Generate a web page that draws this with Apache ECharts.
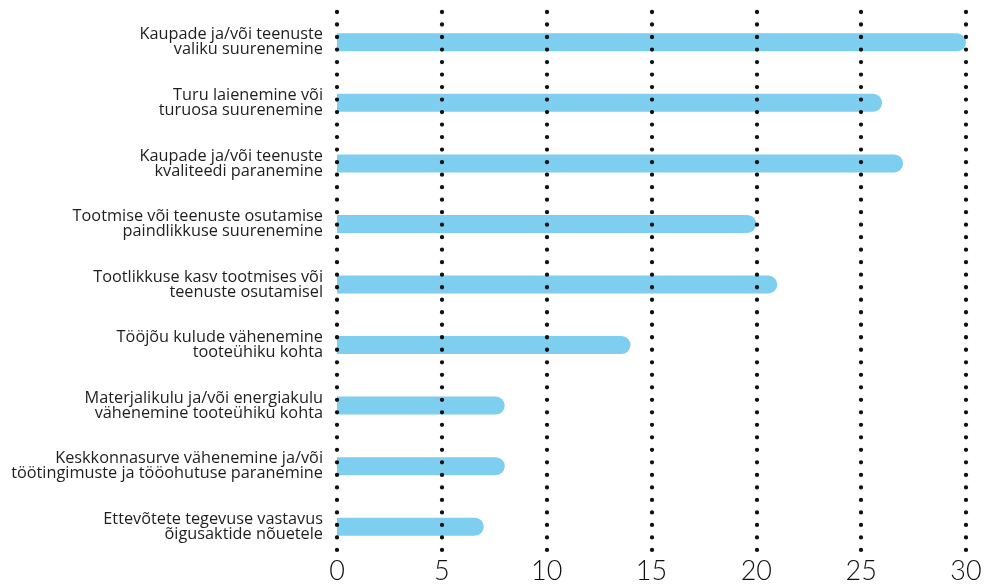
<!DOCTYPE html>
<html><head><meta charset="utf-8">
<script src="https://cdn.jsdelivr.net/npm/echarts@6/dist/echarts.min.js"></script>
<style>html,body{margin:0;padding:0;background:#fff}#c{width:986px;height:584px}</style>
</head><body><div id="c"></div>
<script>
const categories = [
  "Kaupade ja/või teenuste\nvaliku suurenemine",
  "Turu laienemine või\nturuosa suurenemine",
  "Kaupade ja/või teenuste\nkvaliteedi paranemine",
  "Tootmise või teenuste osutamise\npaindlikkuse suurenemine",
  "Tootlikkuse kasv tootmises või\nteenuste osutamisel",
  "Tööjõu kulude vähenemine\ntooteühiku kohta",
  "Materjalikulu ja/või energiakulu\nvähenemine tooteühiku kohta",
  "Keskkonnasurve vähenemine ja/või\ntöötingimuste ja tööohutuse paranemine",
  "Ettevõtete tegevuse vastavus\nõigusaktide nõuetele"
];
const values = [30, 26, 27, 20, 21, 14, 8, 8, 7];
const xTicks = [0, 5, 10, 15, 20, 25, 30];

const chart = echarts.init(document.getElementById('c'));
chart.setOption({
  animation: false,
  backgroundColor: '#fff',
  grid: { left: 337, right: 20, top: 12, bottom: 27, containLabel: false, outerBoundsMode: 'none' },
  xAxis: {
    type: 'value', min: xTicks[0], max: xTicks[xTicks.length - 1], interval: 5,
    z: 5,
    axisLine: { show: false }, axisTick: { show: false },
    axisLabel: { fontFamily: 'Lato', fontWeight: 300, fontSize: 27, color: '#111', margin: 1 },
    splitLine: { show: true, lineStyle: { color: '#111', width: 4.3, type: [0.01, 12.5], cap: 'round' } }
  },
  yAxis: {
    type: 'category', data: categories, inverse: true,
    axisLine: { show: false }, axisTick: { show: false },
    axisLabel: { fontFamily: 'Open Sans', fontSize: 16.3, lineHeight: 15, color: '#1e1e1e', align: 'right', margin: 14 }
  },
  series: [{
    type: 'bar', data: values, barWidth: 18, z: 2,
    itemStyle: { color: '#7ecef0', borderRadius: [0, 9, 9, 0] }
  }]
});
</script></body></html>
